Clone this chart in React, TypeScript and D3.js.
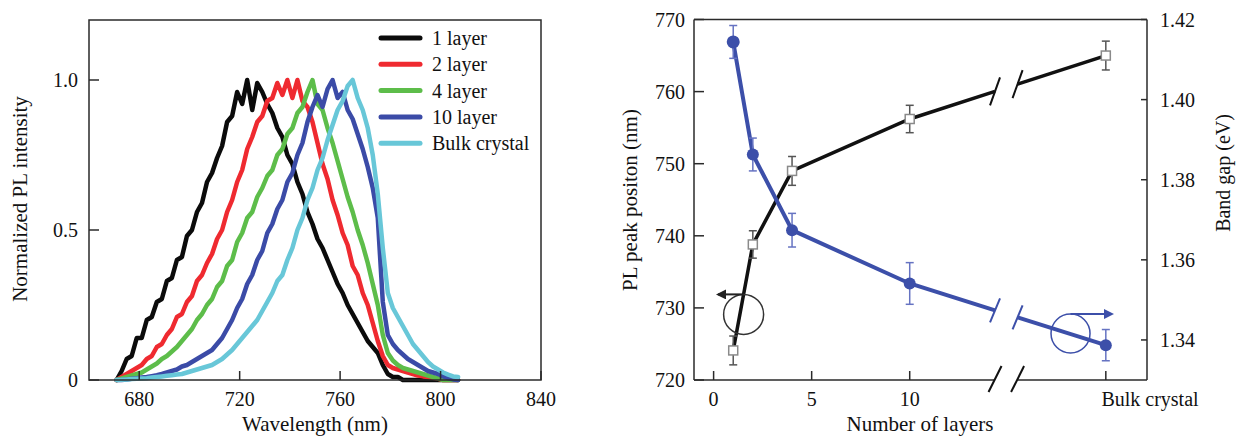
import React from "react";
import * as d3 from "d3";

// ---- left panel: PL spectra ----
const wavelengths = [
  671, 673, 675, 677, 679, 681, 683, 685, 687, 689,
  691, 693, 695, 697, 699, 701, 703, 705, 707, 709,
  711, 713, 715, 717, 719, 721, 723, 725, 727, 729,
  731, 733, 735, 737, 739, 741, 743, 745, 747, 749,
  751, 753, 755, 757, 759, 761, 763, 765, 767, 769,
  771, 773, 775, 777, 779, 781, 783, 785, 787, 789,
  791, 793, 795, 797, 799, 801, 803, 805, 807,
];

const layer1 = [
  0.0, 0.03, 0.07, 0.08, 0.14, 0.14, 0.2, 0.21, 0.26, 0.27,
  0.33, 0.34, 0.4, 0.41, 0.48, 0.5, 0.56, 0.59, 0.66, 0.69,
  0.74, 0.78, 0.86, 0.88, 0.96, 0.92, 1.0, 0.9, 0.99, 0.96,
  0.92, 0.89, 0.84, 0.81, 0.75, 0.72, 0.66, 0.62, 0.56, 0.52,
  0.47, 0.44, 0.4, 0.36, 0.32, 0.29, 0.25, 0.22, 0.19, 0.16,
  0.13, 0.11, 0.09, 0.05, 0.02, 0.01, 0.01, 0.0, 0.0, 0.0,
  0.0, 0.0, 0.0, 0.0, 0.0, 0.0, 0.0, 0.0, 0.0,
];
const layer2 = [
  0.0, 0.01, 0.02, 0.03, 0.04, 0.05, 0.07, 0.08, 0.11, 0.12,
  0.15, 0.17, 0.21, 0.22, 0.26, 0.28, 0.33, 0.35, 0.39, 0.42,
  0.47, 0.5, 0.56, 0.6, 0.66, 0.7, 0.77, 0.81, 0.86, 0.88,
  0.93, 0.94, 0.99, 0.95, 1.0, 0.94, 1.0, 0.93, 0.91, 0.86,
  0.79, 0.72, 0.67, 0.6, 0.55, 0.49, 0.45, 0.38, 0.35, 0.29,
  0.25, 0.19, 0.13, 0.08, 0.05, 0.04, 0.035, 0.03, 0.025, 0.02,
  0.015, 0.012, 0.01, 0.007, 0.004, 0.0, 0.0, 0.0, 0.0,
];
const layer4 = [
  0.0, 0.005, 0.01, 0.015, 0.02, 0.025, 0.035, 0.045, 0.055, 0.07,
  0.08, 0.095, 0.11, 0.13, 0.15, 0.17, 0.2, 0.22, 0.25, 0.27,
  0.31, 0.33, 0.38, 0.4, 0.46, 0.49, 0.54, 0.56, 0.61, 0.64,
  0.68, 0.7, 0.75, 0.77, 0.82, 0.84, 0.89, 0.91, 0.96, 1.0,
  0.92, 0.9, 0.84, 0.79, 0.73, 0.67, 0.61, 0.56, 0.5, 0.45,
  0.39, 0.32, 0.25, 0.15, 0.09, 0.065, 0.05, 0.04, 0.035, 0.03,
  0.025, 0.02, 0.015, 0.01, 0.005, 0.0, 0.0, 0.0, 0.0,
];
const layer10 = [
  0.0, 0.0, 0.002, 0.004, 0.006, 0.008, 0.01, 0.013, 0.016, 0.02,
  0.025, 0.03, 0.035, 0.045, 0.05, 0.06, 0.07, 0.08, 0.09, 0.1,
  0.12, 0.14, 0.17, 0.2, 0.24, 0.27, 0.32, 0.35, 0.4, 0.43,
  0.49, 0.52, 0.57, 0.6, 0.66, 0.69, 0.75, 0.79, 0.86, 0.91,
  0.95, 0.91, 0.97, 1.0, 0.94, 0.96, 0.9, 0.87, 0.82, 0.77,
  0.71, 0.64, 0.54, 0.26, 0.15, 0.12, 0.1, 0.085, 0.07, 0.06,
  0.05, 0.04, 0.03, 0.025, 0.02, 0.012, 0.006, 0.002, 0.0,
];
const bulk = [
  0.0, 0.001, 0.002, 0.003, 0.004, 0.005, 0.006, 0.008, 0.01, 0.012,
  0.014, 0.016, 0.018, 0.02, 0.025, 0.03, 0.035, 0.04, 0.045, 0.05,
  0.06, 0.07, 0.085, 0.1, 0.12, 0.14, 0.16, 0.18, 0.2, 0.23,
  0.26, 0.29, 0.33, 0.35, 0.4, 0.44, 0.5, 0.54, 0.6, 0.64,
  0.7, 0.74, 0.8, 0.85, 0.9, 0.93, 0.98, 1.0, 0.94, 0.9,
  0.84, 0.75, 0.62, 0.44, 0.29, 0.24, 0.21, 0.18, 0.15, 0.12,
  0.1, 0.08, 0.06, 0.045, 0.035, 0.025, 0.018, 0.012, 0.01,
];

const spectra = [layer1, layer2, layer4, layer10, bulk];
const spectraNames = ["1 layer", "2 layer", "4 layer", "10 layer", "Bulk crystal"];
const spectraColors = ["#0b0b0b", "#ef2a30", "#5dbd4a", "#3b4ba7", "#68c7d8"];
const wlTicks = [680, 720, 760, 800, 840];
const intTicks = [0, 0.5, 1.0];
const intTickLabels = ["0", "0.5", "1.0"];

// ---- right panel: peak position & band gap ----
const layerPos = [1, 2, 4, 10, 20]; // bulk crystal drawn at 20
const layerTicks = [0, 5, 10, 20];
const layerTickLabels = ["0", "5", "10", "Bulk crystal"];
const peakNm = [724.1, 738.8, 749.0, 756.2, 765.0];
const peakErr = [2.0, 1.9, 2.0, 1.9, 2.0];
const gapEv = [1.4144, 1.3863, 1.3674, 1.3541, 1.3387];
const gapErr = [0.0041, 0.0041, 0.0042, 0.0052, 0.0039];
const peakTicks = [720, 730, 740, 750, 760, 770];
const gapTicks = [1.34, 1.36, 1.38, 1.4, 1.42];
const breakAt = [14.35, 15.5];

const FONT = "'Liberation Serif', 'Times New Roman', serif";
const AX = "#2a2a2a";
const BLUE = "#3c4fa9";

const xL = d3.scaleLinear().domain([660, 840]).range([89, 541]);
const yI = d3.scaleLinear().domain([0, 1.2]).range([380, 20]);

const xN = d3.scaleLinear().domain([-1, 22.1]).range([694, 1147]);
const yP = d3.scaleLinear().domain([720, 770]).range([380, 19.5]);
const yG = d3.scaleLinear().domain([1.33, 1.42]).range([380, 19.5]);

const spectrumLine = d3
  .line<number>()
  .x((_, i) => xL(wavelengths[i]))
  .y((d) => yI(d));

// split the last segment (10 layers -> bulk) at the axis break
function splitSeries(ys: number[], yScale: d3.ScaleLinear<number, number>) {
  const pts = layerPos.map((x, i) => [xN(x), yScale(ys[i])] as [number, number]);
  const [xa, ya] = pts[3];
  const [xb, yb] = pts[4];
  const cut = (v: number): [number, number] => {
    const px = xN(v);
    return [px, ya + ((px - xa) / (xb - xa)) * (yb - ya)];
  };
  const c1 = cut(breakAt[0]);
  const c2 = cut(breakAt[1]);
  return { first: [...pts.slice(0, 4), c1], second: [c2, pts[4]], c1, c2 };
}

const poly = d3.line<[number, number]>();

function Slash({ p, dx, dy, color, w }: any) {
  return (
    <line x1={p[0] - dx} y1={p[1] + dy} x2={p[0] + dx} y2={p[1] - dy} stroke={color} strokeWidth={w} />
  );
}

const App = () => {
  const black = splitSeries(peakNm, yP);
  const blue = splitSeries(gapEv, yG);
  const b1 = xN(breakAt[0]);
  const b2 = xN(breakAt[1]);

  return (
    <svg
      width={1236}
      height={439}
      style={{ position: "absolute", left: 0, top: 0, background: "#fff" }}
      fontFamily={FONT}
    >
      <defs>
        <marker id="arrK" viewBox="0 0 10 10" refX="8" refY="5" markerWidth="5" markerHeight="5" orient="auto">
          <path d="M0,0 L10,5 L0,10 z" fill="#222" />
        </marker>
        <marker id="arrB" viewBox="0 0 10 10" refX="8" refY="5" markerWidth="5" markerHeight="5" orient="auto">
          <path d="M0,0 L10,5 L0,10 z" fill={BLUE} />
        </marker>
      </defs>

      {/* ===== left panel ===== */}
      <g>
        {spectra.map((s, k) => (
          <path
            key={k}
            d={spectrumLine(s) || ""}
            fill="none"
            stroke={spectraColors[k]}
            strokeWidth={4.5}
            strokeLinejoin="round"
            strokeLinecap="round"
          />
        ))}
        <rect x={89} y={20} width={452} height={360} fill="none" stroke={AX} strokeWidth={1.5} />
        {wlTicks.map((t) => (
          <g key={t}>
            <line x1={xL(t)} x2={xL(t)} y1={380} y2={371} stroke={AX} strokeWidth={1.5} />
            <text x={xL(t)} y={406} textAnchor="middle" fontSize={20} fill="#111">
              {t}
            </text>
          </g>
        ))}
        {intTicks.map((t, i) => (
          <g key={t}>
            <line x1={89} x2={99} y1={yI(t)} y2={yI(t)} stroke={AX} strokeWidth={1.5} />
            <text x={78} y={yI(t)} dy="0.35em" textAnchor="end" fontSize={20} fill="#111">
              {intTickLabels[i]}
            </text>
          </g>
        ))}
        <text x={315} y={431} textAnchor="middle" fontSize={21} fill="#111">
          Wavelength (nm)
        </text>
        <text transform="translate(27,199) rotate(-90)" textAnchor="middle" fontSize={21} fill="#111">
          Normalized PL intensity
        </text>
        {spectraNames.map((n, k) => {
          const y = 38 + k * 26.3;
          return (
            <g key={n}>
              <line x1={381} x2={420} y1={y} y2={y} stroke={spectraColors[k]} strokeWidth={5} strokeLinecap="round" />
              <text x={432} y={y} dy="0.35em" fontSize={20} fill="#111">
                {n}
              </text>
            </g>
          );
        })}
      </g>

      {/* ===== right panel ===== */}
      <g>
        {/* frame */}
        <line x1={694} x2={1147} y1={19.5} y2={19.5} stroke={AX} strokeWidth={1.5} />
        <line x1={694} x2={694} y1={19.5} y2={380} stroke={AX} strokeWidth={1.5} />
        <line x1={1147} x2={1147} y1={19.5} y2={380} stroke={AX} strokeWidth={1.5} />
        <line x1={694} x2={b1} y1={380} y2={380} stroke={AX} strokeWidth={1.5} />
        <line x1={b2} x2={1147} y1={380} y2={380} stroke={AX} strokeWidth={1.5} />
        <Slash p={[b1, 379]} dx={6.5} dy={13} color="#111" w={2} />
        <Slash p={[b2, 379]} dx={6.5} dy={13} color="#111" w={2} />

        {layerTicks.map((t, i) => (
          <g key={t}>
            <line x1={xN(t)} x2={xN(t)} y1={380} y2={371} stroke={AX} strokeWidth={1.5} />
            <text x={i === 3 ? 1150 : xN(t)} y={406} textAnchor="middle" fontSize={20} fill="#111">
              {layerTickLabels[i]}
            </text>
          </g>
        ))}
        {peakTicks.map((t) => (
          <g key={t}>
            <line x1={694} x2={704} y1={yP(t)} y2={yP(t)} stroke={AX} strokeWidth={1.5} />
            <text x={685} y={yP(t)} dy="0.35em" textAnchor="end" fontSize={20} fill="#111">
              {t}
            </text>
          </g>
        ))}
        {gapTicks.map((t) => (
          <g key={t}>
            <line x1={1141} x2={1147} y1={yG(t)} y2={yG(t)} stroke={AX} strokeWidth={1.5} />
            <text x={1160} y={yG(t)} dy="0.35em" textAnchor="start" fontSize={20} fill="#111">
              {t.toFixed(2)}
            </text>
          </g>
        ))}
        <text x={920} y={431} textAnchor="middle" fontSize={21} fill="#111">
          Number of layers
        </text>
        <text transform="translate(637,200) rotate(-90)" textAnchor="middle" fontSize={21} fill="#111">
          PL peak positon (nm)
        </text>
        <text transform="translate(1230,173) rotate(-90)" textAnchor="middle" fontSize={20} fill="#111">
          Band gap (eV)
        </text>

        {/* peak position (black) */}
        <path d={poly(black.first) || ""} fill="none" stroke="#111" strokeWidth={3.5} />
        <path d={poly(black.second) || ""} fill="none" stroke="#111" strokeWidth={3.5} />
        <Slash p={black.c1} dx={5} dy={14} color="#111" w={2} />
        <Slash p={black.c2} dx={5} dy={14} color="#111" w={2} />

        {/* band gap (blue) */}
        <path d={poly(blue.first) || ""} fill="none" stroke={BLUE} strokeWidth={4} />
        <path d={poly(blue.second) || ""} fill="none" stroke={BLUE} strokeWidth={4} />
        <Slash p={blue.c1} dx={5} dy={12} color={BLUE} w={2} />
        <Slash p={blue.c2} dx={5} dy={12} color={BLUE} w={2} />

        {/* error bars */}
        {layerPos.map((x, i) => {
          const px = xN(x);
          return (
            <g key={"eb" + i}>
              <line x1={px} x2={px} y1={yP(peakNm[i] - peakErr[i])} y2={yP(peakNm[i] + peakErr[i])} stroke="#555" strokeWidth={1.5} />
              <line x1={px - 4} x2={px + 4} y1={yP(peakNm[i] - peakErr[i])} y2={yP(peakNm[i] - peakErr[i])} stroke="#555" strokeWidth={1.5} />
              <line x1={px - 4} x2={px + 4} y1={yP(peakNm[i] + peakErr[i])} y2={yP(peakNm[i] + peakErr[i])} stroke="#555" strokeWidth={1.5} />
              <line x1={px} x2={px} y1={yG(gapEv[i] - gapErr[i])} y2={yG(gapEv[i] + gapErr[i])} stroke="#6673c2" strokeWidth={1.5} />
              <line x1={px - 4} x2={px + 4} y1={yG(gapEv[i] - gapErr[i])} y2={yG(gapEv[i] - gapErr[i])} stroke="#6673c2" strokeWidth={1.5} />
              <line x1={px - 4} x2={px + 4} y1={yG(gapEv[i] + gapErr[i])} y2={yG(gapEv[i] + gapErr[i])} stroke="#6673c2" strokeWidth={1.5} />
            </g>
          );
        })}

        {/* markers */}
        {layerPos.map((x, i) => (
          <g key={"mk" + i}>
            <rect x={xN(x) - 4.5} y={yP(peakNm[i]) - 4.5} width={9} height={9} fill="#fff" stroke="#8a8a8a" strokeWidth={1.5} />
            <circle cx={xN(x)} cy={yG(gapEv[i])} r={i === 0 ? 6.5 : 6} fill={BLUE} />
          </g>
        ))}

        {/* axis-assignment annotations */}
        <circle cx={xN(1.53)} cy={yP(729.1)} r={20} fill="none" stroke="#333" strokeWidth={1.5} />
        <line x1={xN(1.53)} y1={yP(729.1) - 20} x2={718} y2={yP(729.1) - 20} stroke="#222" strokeWidth={2} markerEnd="url(#arrK)" />
        <circle cx={xN(18.2)} cy={yG(1.3416)} r={19.5} fill="none" stroke={BLUE} strokeWidth={1.5} />
        <line x1={xN(18.2)} y1={yG(1.3416) - 19.5} x2={1112} y2={yG(1.3416) - 19.5} stroke={BLUE} strokeWidth={2} markerEnd="url(#arrB)" />
      </g>
    </svg>
  );
};

export default App;
